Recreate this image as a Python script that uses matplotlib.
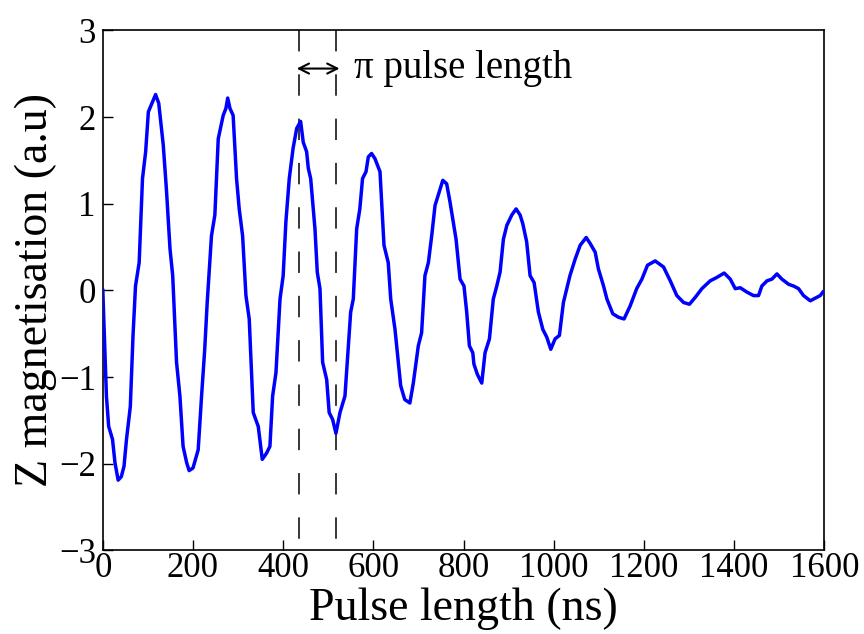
"""Rabi oscillation: Z magnetisation vs pulse length, with the pi pulse length marked."""
import matplotlib; matplotlib.use("Agg")
import matplotlib.pyplot as plt

plt.rcParams["font.family"] = ["Liberation Serif", "DejaVu Serif"]
plt.rcParams["axes.unicode_minus"] = True

# pulse length (ns) / Z magnetisation (a.u)
pulse_ns = [0, 8, 13, 21.5, 27, 34, 41, 47, 52.5, 61, 67, 72.5, 80.6, 88, 95, 101, 109, 117, 124, 134,
            141, 149, 155, 163.5, 171, 178, 186, 191.5, 200, 211.5, 219, 226, 231.5, 241, 248.5, 256, 267,
            273, 277, 282, 289, 296.6, 302.5, 310, 317.4, 324.7, 333.6, 344.7, 353.6, 363, 370.6, 376.6,
            384, 393, 400, 406, 413.5, 422, 430, 438.7, 444.5, 452, 455.7, 461, 470.5, 475.6, 481.6, 487.5,
            496.5, 502, 509.7, 517, 526, 537, 544.5, 549.7, 555.5, 563, 570, 576, 583.7, 588.8, 596, 603.6,
            614.7, 623.6, 633, 638.5, 648, 660.6, 669.6, 681, 688.6, 699.7, 707, 714.4, 722, 729.4, 736.8,
            744, 754, 762.6, 770, 783.4, 792.3, 801, 807, 813, 820.5, 823, 830.7, 840.4, 847.7, 857.4, 866,
            873.7, 881, 888.4, 896, 907, 916.6, 925.4, 931.4, 940, 947.6, 956.5, 966, 975.8, 984.6, 993.5,
            1003, 1012.6, 1021.5, 1029, 1036, 1047.5, 1058.6, 1072, 1081, 1092, 1099, 1110.5, 1118, 1131,
            1143.6, 1156, 1169.5, 1184, 1195.6, 1208, 1225, 1243.5, 1258.5, 1273, 1288, 1301, 1314, 1328.6,
            1347, 1362, 1378, 1391.5, 1402.6, 1413.7, 1428.5, 1443, 1454.3, 1461.6, 1473, 1484, 1495, 1506,
            1521, 1532, 1543, 1554, 1569, 1580, 1591, 1597]
z_mag = [0, -1.22, -1.57, -1.72, -1.99, -2.19, -2.15, -2.03, -1.72, -1.34, -0.52, 0.05, 0.32, 1.29, 1.60,
         2.06, 2.16, 2.26, 2.16, 1.68, 1.17, 0.48, 0.17, -0.83, -1.22, -1.80, -1.99, -2.08, -2.05, -1.84,
         -1.22, -0.68, -0.14, 0.63, 0.87, 1.75, 2.02, 2.10, 2.22, 2.10, 2.02, 1.29, 0.94, 0.63, -0.06, -0.33,
         -1.41, -1.57, -1.95, -1.88, -1.80, -1.22, -0.95, -0.10, 0.17, 0.79, 1.29, 1.64, 1.87, 1.95, 1.71,
         1.60, 1.41, 1.29, 0.71, 0.21, 0.02, -0.83, -1.03, -1.41, -1.49, -1.65, -1.41, -1.22, -0.64, -0.25,
         -0.10, 0.71, 0.94, 1.29, 1.37, 1.54, 1.58, 1.52, 1.37, 0.52, 0.32, -0.10, -0.45, -1.10, -1.26, -1.30,
         -1.07, -0.64, -0.49, 0.17, 0.32, 0.63, 0.98, 1.10, 1.27, 1.23, 1.02, 0.59, 0.13, 0.05, -0.25, -0.64,
         -0.72, -0.85, -0.97, -1.07, -0.72, -0.56, -0.10, 0.05, 0.21, 0.59, 0.75, 0.87, 0.94, 0.87, 0.77,
         0.56, 0.17, 0.09, -0.25, -0.45, -0.54, -0.68, -0.56, -0.52, -0.14, 0.02, 0.17, 0.36, 0.52, 0.61,
         0.54, 0.44, 0.25, 0.05, -0.10, -0.27, -0.31, -0.33, -0.18, 0.02, 0.13, 0.29, 0.34, 0.27, 0.11, -0.06,
         -0.14, -0.16, -0.08, 0.02, 0.11, 0.15, 0.20, 0.13, 0.02, 0.03, -0.02, -0.06, -0.06, 0.05, 0.11, 0.13,
         0.19, 0.13, 0.07, 0.05, 0.02, -0.06, -0.12, -0.09, -0.06, -0.02]

pi_marks = [435, 517]          # dashed lines bounding one pi pulse
arrow_span = (430, 525)
arrow_y = 2.56

fig = plt.figure(figsize=(8.64, 6.34), dpi=100)
ax = fig.add_axes([0.119, 0.132, 0.835, 0.820])
ax.plot(pulse_ns, z_mag, color="#0000ff", lw=2.5, zorder=3)
for xm in pi_marks:
    ax.plot([xm, xm], [3, -3], color="k", lw=1.1, dashes=(14, 15), zorder=2)
ax.annotate("", xy=(arrow_span[0], arrow_y), xytext=(arrow_span[1], arrow_y),
            arrowprops=dict(arrowstyle="<->", shrinkA=0, shrinkB=0, lw=1.5, color="k", mutation_scale=18))
ax.text(556, arrow_y, "π pulse length", fontsize=28, va="center", ha="left")

ax.set_xlim(0, 1600); ax.set_ylim(-3, 3)
ax.set_xticks(range(0, 1601, 200)); ax.set_yticks(range(-3, 4))
ax.tick_params(direction="in", length=7, width=1, labelsize=25, top=False, right=False)
ax.tick_params(axis="x", pad=1); ax.tick_params(axis="y", pad=5)
for s in ax.spines.values():
    s.set_linewidth(1.2)
ax.set_xlabel("Pulse length (ns)", fontsize=33, labelpad=2)
ax.set_ylabel("Z magnetisation (a.u)", fontsize=33, labelpad=1)
fig.savefig("out.png", dpi=100)
